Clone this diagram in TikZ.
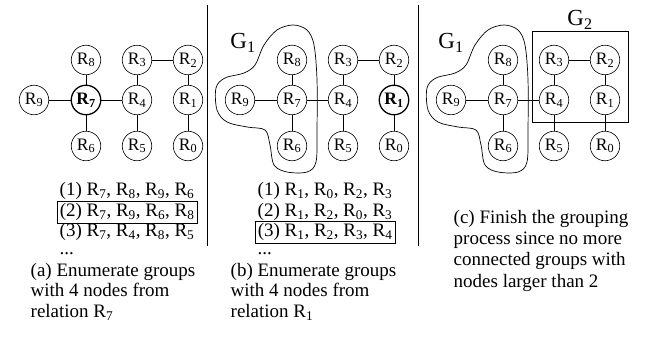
\documentclass[tikz,border=0pt]{standalone}
\usepackage{fontspec}
\setmainfont{Liberation Serif}
\begin{document}
\begin{tikzpicture}[x=1pt,y=-1pt,
  rn/.style={circle, draw, line width=0.6pt, minimum size=29.5pt, inner sep=0pt, font=\fontsize{17.5}{17.5}\selectfont},
  hl/.style={line width=1.3pt, font=\fontsize{17.5}{17.5}\selectfont\bfseries},
  edge/.style={line width=0.6pt},
  lst/.style={anchor=base west, inner sep=2.5pt, font=\fontsize{19}{21}\selectfont},
  dots/.style={anchor=base west, inner sep=0pt, text height=3pt, text depth=0pt, font=\fontsize{19}{21}\selectfont},
  boxed/.style={draw, line width=0.6pt},
  glab/.style={font=\fontsize{23}{23}\selectfont, inner sep=0pt},
  sep/.style={line width=0.7pt},
  blob/.style={line width=0.7pt}
]
\useasboundingbox (0,0) rectangle (646,344);

% ---------- panel (a) ----------
\node[rn] (a8) at (86,60) {R\textsubscript{8}};
\node[rn] (a3) at (137,60) {R\textsubscript{3}};
\node[rn] (a2) at (188,60) {R\textsubscript{2}};
\node[rn] (a9) at (34,100) {R\textsubscript{9}};
\node[rn,hl] (a7) at (86,100) {R\textsubscript{7}};
\node[rn] (a4) at (137,100) {R\textsubscript{4}};
\node[rn] (a1) at (188,100) {R\textsubscript{1}};
\node[rn] (a6) at (86,146) {R\textsubscript{6}};
\node[rn] (a5) at (137,146) {R\textsubscript{5}};
\node[rn] (a0) at (188,146) {R\textsubscript{0}};
\draw[edge] (a9) -- (a7); \draw[edge] (a7) -- (a4);
\draw[edge] (a7) -- (a8); \draw[edge] (a7) -- (a6);
\draw[edge] (a4) -- (a3); \draw[edge] (a4) -- (a5);
\draw[edge] (a3) -- (a2); \draw[edge] (a2) -- (a1); \draw[edge] (a1) -- (a0);

\node[lst] (al1) at (57,196) {(1) R\textsubscript{7}, R\textsubscript{8}, R\textsubscript{9}, R\textsubscript{6}};
\node[lst,boxed] (al2) at (57,217) {(2) R\textsubscript{7}, R\textsubscript{9}, R\textsubscript{6}, R\textsubscript{8}};
\node[lst] (al3) at (57,237) {(3) R\textsubscript{7}, R\textsubscript{4}, R\textsubscript{8}, R\textsubscript{5}};
\node[dots] (ald) at (59.5,255) {...};
\node[lst] (ac1) at (28,277) {(a) Enumerate groups};
\node[lst] (ac2) at (28,297) {with 4 nodes from};
\node[lst] (ac3) at (28,318) {relation R\textsubscript{7}};

\coordinate (s1t) at (207,5); \coordinate (s1b) at (207,246);
\draw[sep] (s1t) -- (s1b);

% ---------- panel (b) ----------
\node[rn] (b8) at (292,60) {R\textsubscript{8}};
\node[rn] (b3) at (343,60) {R\textsubscript{3}};
\node[rn] (b2) at (394,60) {R\textsubscript{2}};
\node[rn] (b9) at (240,100) {R\textsubscript{9}};
\node[rn] (b7) at (292,100) {R\textsubscript{7}};
\node[rn] (b4) at (343,100) {R\textsubscript{4}};
\node[rn,hl] (b1) at (394,100) {R\textsubscript{1}};
\node[rn] (b6) at (292,146) {R\textsubscript{6}};
\node[rn] (b5) at (343,146) {R\textsubscript{5}};
\node[rn] (b0) at (394,146) {R\textsubscript{0}};
\draw[edge] (b9) -- (b7); \draw[edge] (b7) -- (b4);
\draw[edge] (b7) -- (b8); \draw[edge] (b7) -- (b6);
\draw[edge] (b4) -- (b3); \draw[edge] (b4) -- (b5);
\draw[edge] (b3) -- (b2); \draw[edge] (b2) -- (b1); \draw[edge] (b1) -- (b0);

\draw[blob, shift={(b7.center)}] plot[smooth cycle, tension=0.55] coordinates {
  (1,-75) (15,-70) (22,-55) (25,-20) (25,30) (24,62) (15,72) (-5,72) (-18,65)
  (-22,45) (-27,30) (-45,27) (-65,22) (-75,10) (-76,-12) (-67,-22) (-48,-27)
  (-37,-35) (-28,-55) (-15,-70)};
\node[glab] (bg1) at (243,43) {G\textsubscript{1}};

\node[lst] (bl1) at (255,196) {(1) R\textsubscript{1}, R\textsubscript{0}, R\textsubscript{2}, R\textsubscript{3}};
\node[lst] (bl2) at (255,217) {(2) R\textsubscript{1}, R\textsubscript{2}, R\textsubscript{0}, R\textsubscript{3}};
\node[lst,boxed] (bl3) at (255,237) {(3) R\textsubscript{1}, R\textsubscript{2}, R\textsubscript{3}, R\textsubscript{4}};
\node[dots] (bld) at (257.5,255) {...};
\node[lst] (bc1) at (228,277) {(b) Enumerate groups};
\node[lst] (bc2) at (228,297) {with 4 nodes from};
\node[lst] (bc3) at (228,318) {relation R\textsubscript{1}};

\coordinate (s2t) at (418,5); \coordinate (s2b) at (418,246);
\draw[sep] (s2t) -- (s2b);

% ---------- panel (c) ----------
\node[rn] (c8) at (503,60) {R\textsubscript{8}};
\node[rn] (c3) at (554,60) {R\textsubscript{3}};
\node[rn] (c2) at (605,60) {R\textsubscript{2}};
\node[rn] (c9) at (451,100) {R\textsubscript{9}};
\node[rn] (c7) at (503,100) {R\textsubscript{7}};
\node[rn] (c4) at (554,100) {R\textsubscript{4}};
\node[rn] (c1) at (605,100) {R\textsubscript{1}};
\node[rn] (c6) at (503,146) {R\textsubscript{6}};
\node[rn] (c5) at (554,146) {R\textsubscript{5}};
\node[rn] (c0) at (605,146) {R\textsubscript{0}};
\draw[edge] (c9) -- (c7); \draw[edge] (c7) -- (c4);
\draw[edge] (c7) -- (c8); \draw[edge] (c7) -- (c6);
\draw[edge] (c4) -- (c3); \draw[edge] (c4) -- (c5);
\draw[edge] (c3) -- (c2); \draw[edge] (c2) -- (c1); \draw[edge] (c1) -- (c0);

\draw[blob, shift={(c7.center)}] plot[smooth cycle, tension=0.55] coordinates {
  (1,-75) (15,-70) (22,-55) (25,-20) (25,30) (24,62) (15,72) (-5,72) (-18,65)
  (-22,45) (-27,30) (-45,27) (-65,22) (-75,10) (-76,-12) (-67,-22) (-48,-27)
  (-37,-35) (-28,-55) (-15,-70)};
\node[glab] (cg1) at (451,43) {G\textsubscript{1}};

\node[draw, line width=0.7pt, minimum width=96pt, minimum height=91pt, inner sep=0pt] (g2box) at (580,76.5) {};
\node[glab] (cg2) at (580,20) {G\textsubscript{2}};

\node[lst] (cc1) at (451,224) {(c) Finish the grouping};
\node[lst] (cc2) at (451,245) {process since no more};
\node[lst] (cc3) at (451,266) {connected groups with};
\node[lst] (cc4) at (451,288) {nodes larger than 2};
\end{tikzpicture}
\end{document}
